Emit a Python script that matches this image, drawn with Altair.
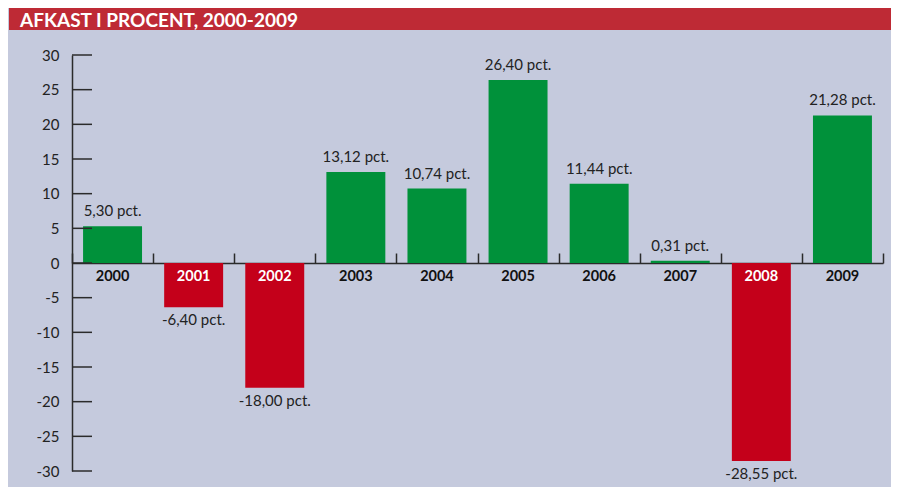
import altair as alt
import pandas as pd

title_text = "AFKAST I PROCENT, 2000-2009"
years = ["2000", "2001", "2002", "2003", "2004", "2005", "2006", "2007", "2008", "2009"]
returns = [5.30, -6.40, -18.00, 13.12, 10.74, 26.40, 11.44, 0.31, -28.55, 21.28]
value_labels = ["5,30 pct.", "-6,40 pct.", "-18,00 pct.", "13,12 pct.", "10,74 pct.",
                "26,40 pct.", "11,44 pct.", "0,31 pct.", "-28,55 pct.", "21,28 pct."]
y_ticks = [-30, -25, -20, -15, -10, -5, 0, 5, 10, 15, 20, 25, 30]

GREEN = "#00913a"
RED = "#c4001a"
HEADER = "#be2a35"
BG = "#c5cadd"
DARK = "#2b2b2b"
FONT = "Lato"

df = pd.DataFrame({
    "year": years,
    "value": returns,
    "label": value_labels,
    "sign": ["pos" if v >= 0 else "neg" for v in returns],
})
ticks_df = pd.DataFrame({"tick": y_ticks})
head_df = pd.DataFrame({"t": [title_text]})

W, H = 811, 416
PAD = {"left": 64, "top": 47, "right": 8, "bottom": 16}

xscale = alt.Scale(domain=years, paddingInner=0, paddingOuter=0)
yscale = alt.Scale(domain=[-30, 30], nice=False, zero=False)

X_AXIS = alt.Axis(orient="top", offset=-H / 2, labels=False, title=None,
                  domainColor=DARK, domainWidth=1.5,
                  tickBand="extent", tickSize=10, tickColor=DARK, tickWidth=1.5)
Y_AXIS = alt.Axis(values=y_ticks, title=None, ticks=False, tickSize=0,
                  labelPadding=13, labelFontSize=15, labelFont=FONT,
                  labelColor="#222222", domainColor=DARK, domainWidth=1.5,
                  grid=False, labelBaseline="middle", labelOverlap=False,
                  labelExpr="datum.value + ''")

X_ENC = alt.X("year:N", scale=xscale, sort=years, axis=X_AXIS)
Y_ENC = alt.Y("value:Q", scale=yscale, axis=Y_AXIS)

base = alt.Chart(df)

bars = base.mark_bar(width=alt.RelativeBandSize(0.727)).encode(
    x=X_ENC,
    y=Y_ENC,
    color=alt.Color("sign:N", scale=alt.Scale(domain=["pos", "neg"], range=[GREEN, RED]),
                    legend=None),
)

tick_rules = alt.Chart(ticks_df).mark_rule(color=DARK, strokeWidth=1.5).encode(
    y=alt.Y("tick:Q", scale=yscale, axis=Y_AXIS),
    x=alt.value(0),
    x2=alt.value(20),
)

pos_labels = base.transform_filter("datum.value >= 0").mark_text(
    baseline="alphabetic", dy=-10, fontSize=15, font=FONT, color="#222222"
).encode(x=X_ENC, y=Y_ENC, text="label:N")

neg_labels = base.transform_filter("datum.value < 0").mark_text(
    baseline="top", dy=6, fontSize=15, font=FONT, color="#222222"
).encode(x=X_ENC, y=Y_ENC, text="label:N")

year_labels = base.mark_text(
    baseline="middle", dy=14, fontSize=14.5, font=FONT, fontWeight="bold"
).encode(
    x=X_ENC,
    y=alt.Y(datum=0, scale=yscale, axis=Y_AXIS),
    text="year:N",
    color=alt.condition("datum.value < 0", alt.value("white"), alt.value("#111111")),
)

header_rect = alt.Chart(head_df).mark_rect(color=HEADER).encode(
    x=alt.value(-63), x2=alt.value(W + PAD["right"]),
    y=alt.value(-PAD["top"]), y2=alt.value(-PAD["top"] + 22)
)
header_text = alt.Chart(head_df).mark_text(
    align="left", baseline="alphabetic", fontSize=19, font=FONT, fontWeight="bold",
    color="white"
).encode(text="t:N", x=alt.value(-52), y=alt.value(-PAD["top"] + 19))

chart = alt.layer(
    header_rect, header_text, bars, tick_rules, pos_labels, neg_labels, year_labels
).properties(
    width=W, height=H,
    autosize=alt.AutoSizeParams(type="none"),
    padding=PAD,
    background=BG,
).configure_view(stroke=None).configure_axis(labelFont=FONT)

chart.save("out.html", embed_options={"renderer": "svg", "actions": False})
